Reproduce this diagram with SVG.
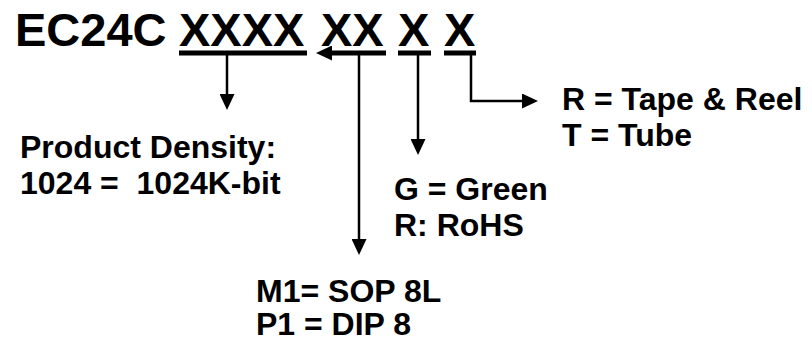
<svg xmlns="http://www.w3.org/2000/svg" width="812" height="342" viewBox="0 0 812 342">
  <style>
    .t { font-family: "Liberation Sans", Arial, sans-serif; font-weight: bold; fill: #000; }
    .title { font-size: 47px; }
    .lbl { font-size: 32px; }
    .bar { stroke: #000; stroke-width: 5; fill: none; }
    .con { stroke: #000; stroke-width: 2.5; fill: none; }
  </style>
  <defs>
    <marker id="ah" markerUnits="userSpaceOnUse" markerWidth="16" markerHeight="15" refX="1" refY="7.5" orient="auto">
      <path d="M0,0 L16,7.5 L0,15 z" fill="#000"/>
    </marker>
  </defs>
  <rect width="812" height="342" fill="#fff"/>

  <g id="title">
    <text class="t title" x="15" y="46">EC24C</text>
    <text class="t title" x="179" y="46">XXXX</text>
    <text class="t title" x="321" y="46">XX</text>
    <text class="t title" x="398" y="46">X</text>
    <text class="t title" x="444" y="46">X</text>
  </g>

  <g id="connectors">
    <line class="bar" x1="179" y1="53" x2="307" y2="53"/>
    <line class="bar" x1="386" y1="53" x2="331" y2="53" marker-end="url(#ah)"/>
    <line class="bar" x1="398" y1="53" x2="431" y2="53"/>
    <line class="bar" x1="444" y1="53" x2="476" y2="53"/>
    <line class="con" x1="227" y1="55" x2="227" y2="95" marker-end="url(#ah)"/>
    <line class="con" x1="359" y1="55" x2="359" y2="240" marker-end="url(#ah)"/>
    <line class="con" x1="418" y1="55" x2="418" y2="140" marker-end="url(#ah)"/>
    <path class="con" d="M471,55 V101 H523" marker-end="url(#ah)"/>
  </g>

  <g id="density">
    <text class="t lbl" x="20" y="158">Product Density:</text>
    <text class="t lbl" x="20" y="194">1024 =&#160; 1024K-bit</text>
  </g>

  <g id="package">
    <text class="t lbl" x="256" y="302">M1= SOP 8L</text>
    <text class="t lbl" x="256" y="335">P1 = DIP 8</text>
  </g>

  <g id="material">
    <text class="t lbl" x="394" y="200">G = Green</text>
    <text class="t lbl" x="394" y="236">R: RoHS</text>
  </g>

  <g id="packing">
    <text class="t lbl" x="562" y="110">R = Tape &amp; Reel</text>
    <text class="t lbl" x="562" y="146">T = Tube</text>
  </g>
</svg>
